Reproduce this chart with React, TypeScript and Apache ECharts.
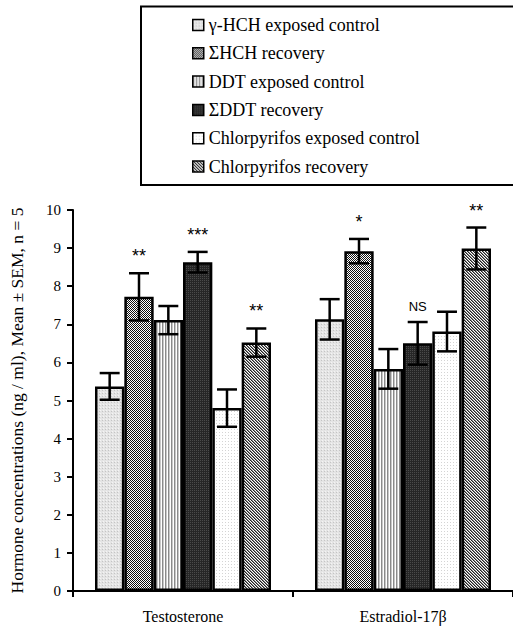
import React, { useEffect, useRef } from "react";
import * as echarts from "echarts";

const categories = ["Testosterone", "Estradiol-17β"];
const seriesNames = [
  "γ-HCH exposed control",
  "ΣHCH recovery",
  "DDT exposed control",
  "ΣDDT recovery",
  "Chlorpyrifos exposed control",
  "Chlorpyrifos recovery",
];
// values per series: [Testosterone, Estradiol]
const means = [
  [5.37, 7.13],
  [7.72, 8.92],
  [7.11, 5.83],
  [8.63, 6.5],
  [4.8, 6.81],
  [6.52, 8.99],
];
const sems = [
  [0.35, 0.53],
  [0.62, 0.32],
  [0.37, 0.52],
  [0.27, 0.56],
  [0.49, 0.52],
  [0.37, 0.55],
];
const significance = [
  ["", ""],
  ["**", "*"],
  ["", ""],
  ["***", "NS"],
  ["", ""],
  ["**", "**"],
];
const yTicks = [0, 1, 2, 3, 4, 5, 6, 7, 8, 9, 10];

function makePattern(w: number, h: number, draw: (ctx: CanvasRenderingContext2D) => void) {
  const c = document.createElement("canvas");
  c.width = w;
  c.height = h;
  const ctx = c.getContext("2d")!;
  draw(ctx);
  return { image: c, repeat: "repeat", imageWidth: w, imageHeight: h } as any;
}

function patterns() {
  return [
    makePattern(3, 3, (g) => {
      g.fillStyle = "#e4e4e4";
      g.fillRect(0, 0, 3, 3);
      g.fillStyle = "#c4c4c4";
      g.fillRect(0, 0, 1, 1);
      g.fillStyle = "#f4f4f4";
      g.fillRect(1, 2, 1, 1);
    }),
    makePattern(2, 2, (g) => {
      g.fillStyle = "#ffffff";
      g.fillRect(0, 0, 2, 2);
      g.fillStyle = "#111111";
      g.fillRect(0, 0, 1, 1);
      g.fillRect(1, 1, 1, 1);
    }),
    makePattern(3, 1, (g) => {
      g.fillStyle = "#ffffff";
      g.fillRect(0, 0, 3, 1);
      g.fillStyle = "#8a8a8a";
      g.fillRect(0, 0, 1, 1);
      g.fillStyle = "#c8c8c8";
      g.fillRect(1, 0, 1, 1);
    }),
    makePattern(2, 2, (g) => {
      g.fillStyle = "#262626";
      g.fillRect(0, 0, 2, 2);
      g.fillStyle = "#4a4a4a";
      g.fillRect(0, 0, 1, 1);
    }),
    makePattern(3, 3, (g) => {
      g.fillStyle = "#ffffff";
      g.fillRect(0, 0, 3, 3);
      g.fillStyle = "#d4d4d4";
      g.fillRect(0, 0, 1, 1);
    }),
    makePattern(3, 3, (g) => {
      g.fillStyle = "#ffffff";
      g.fillRect(0, 0, 3, 3);
      g.fillStyle = "#222222";
      g.fillRect(0, 0, 1, 1);
      g.fillRect(1, 1, 1, 1);
      g.fillRect(2, 2, 1, 1);
      g.fillStyle = "#888888";
      g.fillRect(1, 0, 1, 1);
      g.fillRect(2, 1, 1, 1);
      g.fillRect(0, 2, 1, 1);
    }),
  ];
}

const SERIF = "'Times New Roman', 'Liberation Serif', serif";
const SANS = "'Liberation Sans', Arial, sans-serif";

export default function App() {
  const ref = useRef<HTMLDivElement>(null);
  useEffect(() => {
    document.body.style.margin = "0";
    const chart = echarts.init(ref.current!, null, { renderer: "svg" });
    const pats = patterns();
    const nSeries = seriesNames.length;

    const barSeries = seriesNames.map((name, i) => ({
      name,
      type: "bar",
      data: means[i],
      barGap: "0%",
      barCategoryGap: "20%",
      itemStyle: { color: pats[i], borderColor: "#000", borderWidth: 2.5 },
      emphasis: { disabled: true },
    }));

    const errData: number[][] = [];
    const errSig: string[] = [];
    for (let s = 0; s < nSeries; s++) {
      for (let c = 0; c < categories.length; c++) {
        errData.push([c, s, means[s][c], sems[s][c]]);
        errSig.push(significance[s][c]);
      }
    }

    const errSeries = {
      type: "custom",
      data: errData,
      z: 10,
      silent: true,
      renderItem: (params: any, api: any) => {
        const cat = api.value(0);
        const s = api.value(1);
        const mean = api.value(2);
        const sem = api.value(3);
        const catW = api.size([1, 0])[0];
        const bw = (catW * 0.8) / nSeries;
        const cx = api.coord([cat, mean])[0] + (s - (nSeries - 1) / 2) * bw;
        const yTop = api.coord([cat, mean + sem])[1];
        const yBot = api.coord([cat, mean - sem])[1];
        const half = bw * 0.34;
        const st = { stroke: "#000", lineWidth: 2.5 };
        const sig = errSig[params.dataIndex];
        const children: any[] = [
          { type: "line", shape: { x1: cx, y1: yTop, x2: cx, y2: yBot }, style: st },
          { type: "line", shape: { x1: cx - half, y1: yTop, x2: cx + half, y2: yTop }, style: st },
          { type: "line", shape: { x1: cx - half, y1: yBot, x2: cx + half, y2: yBot }, style: st },
        ];
        if (sig) {
          const isNS = sig === "NS";
          children.push({
            type: "text",
            x: cx,
            y: isNS ? yTop - 16 : yTop - 17,
            style: {
              text: sig,
              fill: "#000",
              fontFamily: SANS,
              fontSize: isNS ? 13 : 18,
              align: "center",
              verticalAlign: "middle",
            },
          });
        }
        return { type: "group", children };
      },
    };

    chart.setOption({
      animation: false,
      backgroundColor: "#fff",
      legend: {
        data: seriesNames,
        orient: "vertical",
        left: 187,
        top: 11,
        itemWidth: 11,
        itemHeight: 11,
        itemGap: 10.3,
        icon: "rect",
        selectedMode: false,
        textStyle: { fontFamily: SERIF, fontSize: 18, color: "#000", lineHeight: 18 },
        itemStyle: { borderWidth: 1.5, borderColor: "#000" },
      },
      graphic: [
        {
          type: "rect",
          shape: { x: 141, y: 6.5, width: 400, height: 178.5 },
          style: { fill: "none", stroke: "#000", lineWidth: 2 },
          silent: true,
        },
      ],
      grid: { left: 71, top: 210, width: 446, height: 381, containLabel: false },
      xAxis: {
        type: "category",
        data: categories,
        axisLine: { lineStyle: { color: "#000", width: 2 } },
        axisTick: { show: true, length: 6, lineStyle: { color: "#000", width: 2 } },
        axisLabel: { fontFamily: SERIF, fontSize: 16, color: "#000", margin: 17 },
      },
      yAxis: {
        type: "value",
        min: yTicks[0],
        max: yTicks[yTicks.length - 1],
        interval: 1,
        name: "Hormone concentrations (ng / ml), Mean ± SEM, n = 5",
        nameLocation: "middle",
        nameGap: 47,
        nameTextStyle: { fontFamily: SERIF, fontSize: 17.5, color: "#000" },
        axisLine: { show: true, lineStyle: { color: "#000", width: 2 } },
        axisTick: { show: true, length: 6, lineStyle: { color: "#000", width: 2 } },
        axisLabel: { fontFamily: SERIF, fontSize: 15, color: "#000", margin: 12 },
        splitLine: { show: false },
      },
      series: [...barSeries, errSeries],
    });
    return () => chart.dispose();
  }, []);
  return <div ref={ref} style={{ width: 513, height: 626 }} />;
}
